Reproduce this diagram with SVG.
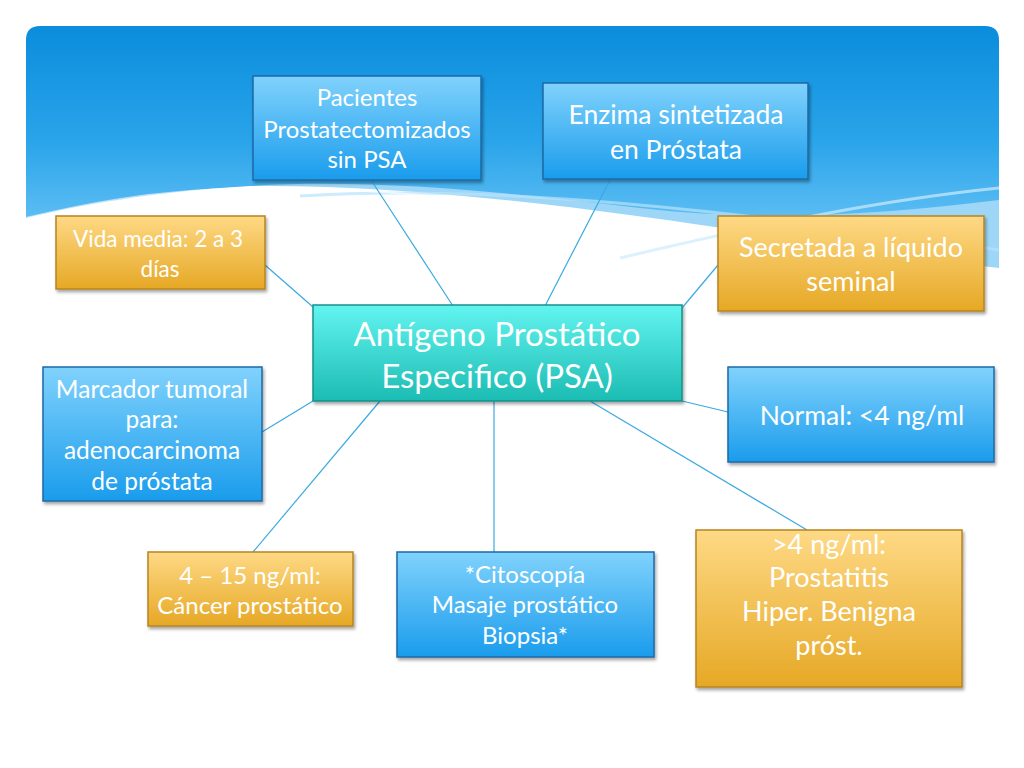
<svg xmlns="http://www.w3.org/2000/svg" width="1024" height="768" viewBox="0 0 1024 768">
<defs>
<linearGradient id="sky" x1="0" y1="0" x2="0" y2="1">
<stop offset="0" stop-color="#0a8ddc"/>
<stop offset="0.6" stop-color="#2aa4ea"/>
<stop offset="1" stop-color="#5cbdf3"/>
</linearGradient>
<linearGradient id="gBlue" x1="0" y1="0" x2="0" y2="1">
<stop offset="0" stop-color="#80d2fc"/>
<stop offset="1" stop-color="#1a9cec"/>
</linearGradient>
<linearGradient id="gOrange" x1="0" y1="0" x2="0" y2="1">
<stop offset="0" stop-color="#fed985"/>
<stop offset="1" stop-color="#e6a825"/>
</linearGradient>
<linearGradient id="gTeal" x1="0" y1="0" x2="0" y2="1">
<stop offset="0" stop-color="#62f4f0"/>
<stop offset="1" stop-color="#1cbcb3"/>
</linearGradient>
<filter id="sh" x="-10%" y="-10%" width="125%" height="130%">
<feDropShadow dx="1.5" dy="2.5" stdDeviation="1.5" flood-color="#000" flood-opacity="0.35"/>
</filter>
<style>
.blue{fill:url(#gBlue);stroke:#1c6aa6;stroke-width:1.5}
.orange{fill:url(#gOrange);stroke:#b8841f;stroke-width:1.5}
.teal{fill:url(#gTeal);stroke:#17908a;stroke-width:1.5}
.t{font-family:"Lato","Open Sans",sans-serif;fill:#ffffff;text-anchor:middle}
.c line{stroke:#3aa9e2;stroke-width:1.2}
</style>
</defs>
<rect width="1024" height="768" fill="#ffffff"/>
<g id="background">
<path d="M250,186 C 420,184 620,212 800,240 C 880,252 950,262 999,268 L999,170 L250,170 Z" fill="#8ccff6" opacity="0.85"/>
<path d="M26,218 L26,40 Q26,26 40,26 L985,26 Q999,26 999,40 L999,200 C880,215 760,222 640,208 C 520,194 380,178 250,186 C 150,192 80,205 26,218 Z" fill="url(#sky)"/>
<path d="M300,196 C 480,185 700,205 999,250" fill="none" stroke="#b6e2fb" stroke-width="3" opacity="0.7"/>
<path d="M620,258 C 760,225 880,200 999,188" fill="none" stroke="#cdebfc" stroke-width="3" opacity="0.7"/>
<path d="M26,218 C 80,205 150,190 250,188 C 330,187 400,192 470,200" fill="none" stroke="#ffffff" stroke-width="2" opacity="0.6"/>
</g>
<g id="connectors" class="c">
<line x1="371" y1="180" x2="453" y2="306"/>
<line x1="610" y1="180" x2="545" y2="306"/>
<line x1="265" y1="265" x2="313" y2="307"/>
<line x1="718" y1="265" x2="682" y2="308"/>
<line x1="262" y1="432" x2="313" y2="401"/>
<line x1="253" y1="552" x2="380" y2="401"/>
<line x1="494" y1="552" x2="494" y2="401"/>
<line x1="807" y1="530" x2="590" y2="401"/>
<line x1="728" y1="412" x2="682" y2="401"/>
</g>
<g id="n-pacientes">
<rect class="blue" x="253" y="76" width="228" height="104" filter="url(#sh)"/>
<text class="t" font-size="24"><tspan x="367" y="106">Pacientes</tspan><tspan x="367" y="138">Prostatectomizados</tspan><tspan x="367" y="168">sin PSA</tspan></text>
</g>
<g id="n-enzima">
<rect class="blue" x="543" y="83" width="265" height="96" filter="url(#sh)"/>
<text class="t" font-size="26.5"><tspan x="676" y="124">Enzima sintetizada</tspan><tspan x="676" y="159">en Próstata</tspan></text>
</g>
<g id="n-vida">
<rect class="orange" x="56" y="216" width="209" height="73" filter="url(#sh)"/>
<text class="t" font-size="22.5"><tspan x="158" y="247">Vida media: 2 a 3</tspan><tspan x="160" y="277">días</tspan></text>
</g>
<g id="n-secretada">
<rect class="orange" x="718" y="216" width="266" height="95" filter="url(#sh)"/>
<text class="t" font-size="27"><tspan x="851" y="257">Secretada a líquido</tspan><tspan x="851" y="291">seminal</tspan></text>
</g>
<g id="n-center">
<rect class="teal" x="313" y="305" width="369" height="96" filter="url(#sh)"/>
<text class="t" font-size="33"><tspan x="497" y="346">Antígeno Prostático</tspan><tspan x="497" y="388">Especifico (PSA)</tspan></text>
</g>
<g id="n-marcador">
<rect class="blue" x="43" y="367" width="219" height="134" filter="url(#sh)"/>
<text class="t" font-size="24.5"><tspan x="152" y="398">Marcador tumoral</tspan><tspan x="152" y="428">para:</tspan><tspan x="152" y="459">adenocarcinoma</tspan><tspan x="152" y="490">de próstata</tspan></text>
</g>
<g id="n-normal">
<rect class="blue" x="728" y="367" width="266" height="95" filter="url(#sh)"/>
<text class="t" font-size="26.5"><tspan x="862" y="425">Normal: &lt;4 ng/ml</tspan></text>
</g>
<g id="n-cancer">
<rect class="orange" x="148" y="552" width="205" height="74" filter="url(#sh)"/>
<text class="t" font-size="24"><tspan x="250" y="584">4 – 15 ng/ml:</tspan><tspan x="250" y="614">Cáncer prostático</tspan></text>
</g>
<g id="n-citoscopia">
<rect class="blue" x="397" y="552" width="257" height="105" filter="url(#sh)"/>
<text class="t" font-size="24"><tspan x="525" y="583">*Citoscopía</tspan><tspan x="525" y="613">Masaje prostático</tspan><tspan x="525" y="644">Biopsia*</tspan></text>
</g>
<g id="n-mayor4">
<rect class="orange" x="696" y="530" width="266" height="157" filter="url(#sh)"/>
<text class="t" font-size="27"><tspan x="829" y="554">&gt;4 ng/ml:</tspan><tspan x="829" y="587">Prostatitis</tspan><tspan x="829" y="621">Hiper. Benigna</tspan><tspan x="829" y="655">próst.</tspan></text>
</g>
</svg>
